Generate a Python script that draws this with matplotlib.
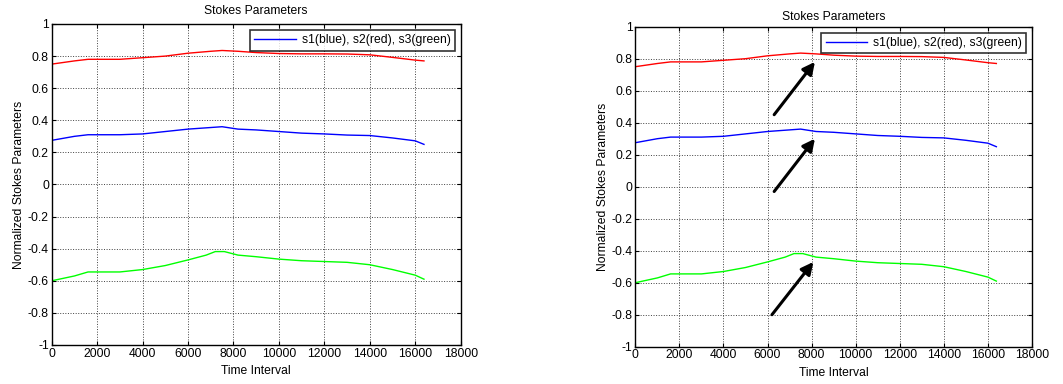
import matplotlib
matplotlib.use("Agg")
import matplotlib.pyplot as plt

plt.rcParams['font.family'] = ['Liberation Sans', 'DejaVu Sans']

# Sample positions (time interval) and normalized Stokes parameters
t = [0, 1000, 1600, 3000, 4000, 5000, 6000, 7000, 7500, 8200, 9000,
     10000, 11000, 12000, 13000, 14000, 15000, 16000, 16384]
s1 = [0.275, 0.300, 0.310, 0.310, 0.315, 0.330, 0.345, 0.355, 0.360, 0.345, 0.340,
      0.330, 0.320, 0.315, 0.308, 0.305, 0.290, 0.272, 0.250]
s2 = [0.750, 0.770, 0.780, 0.780, 0.790, 0.800, 0.818, 0.830, 0.835, 0.830, 0.822,
      0.816, 0.814, 0.814, 0.813, 0.808, 0.792, 0.775, 0.770]
t3 = [0, 1000, 1600, 3000, 4000, 5000, 6000, 6800, 7200, 7600, 8200, 9000,
      10000, 11000, 12000, 13000, 14000, 15000, 16000, 16384]
s3 = [-0.600, -0.570, -0.545, -0.545, -0.530, -0.505, -0.470, -0.440, -0.418, -0.418,
      -0.440, -0.450, -0.465, -0.475, -0.480, -0.485, -0.500, -0.530, -0.565, -0.590]

xticks = [0, 2000, 4000, 6000, 8000, 10000, 12000, 14000, 16000, 18000]
yticks = [-1, -0.8, -0.6, -0.4, -0.2, 0, 0.2, 0.4, 0.6, 0.8, 1]
ytick_labels = ['-1', '-0.8', '-0.6', '-0.4', '-0.2', '0', '0.2', '0.4', '0.6', '0.8', '1']

# Arrow annotations on the second panel: (tail_x, tail_y, head_x, head_y)
arrows = [(6300, 0.45, 8150, 0.78),
          (6300, -0.03, 8150, 0.30),
          (6200, -0.80, 8080, -0.47)]

FS = 8.7

fig = plt.figure(figsize=(10.63, 3.84), dpi=100)
ax_left = fig.add_axes([0.0486, 0.1016, 0.3848, 0.8359])
ax_right = fig.add_axes([0.5977, 0.0971, 0.3731, 0.8334])

for ax, tpad in ((ax_left, 7), (ax_right, 5)):
    ax.plot(t, s1, color='#0000ff', lw=1.0, label='s1(blue), s2(red), s3(green)')
    ax.plot(t, s2, color='#ff0000', lw=1.0)
    ax.plot(t3, s3, color='#00ff00', lw=1.0)
    ax.set_xlim(0, 18000)
    ax.set_ylim(-1, 1)
    ax.set_xticks(xticks)
    ax.set_xticklabels([str(v) for v in xticks])
    ax.set_yticks(yticks)
    ax.set_yticklabels(ytick_labels)
    ax.grid(True, color='#404040', linestyle=':', linewidth=0.7)
    ax.tick_params(direction='in', top=True, right=True, labelsize=FS, length=3, width=0.8, pad=2)
    for sp in ax.spines.values():
        sp.set_linewidth(1.0)
    ax.set_title('Stokes Parameters', fontsize=FS, pad=tpad)
    ax.set_xlabel('Time Interval', fontsize=FS, labelpad=4)
    ax.set_ylabel('Normalized Stokes Parameters', fontsize=FS, labelpad=2)
    leg = ax.legend(loc='upper right', fontsize=FS, frameon=True, fancybox=False,
                    edgecolor='black', borderaxespad=0.5, handlelength=3.4,
                    borderpad=0.35, handletextpad=0.5)
    leg.get_frame().set_linewidth(1.2)

for x0, y0, x1, y1 in arrows:
    ax_right.annotate('', xy=(x1, y1), xytext=(x0, y0),
                      arrowprops=dict(arrowstyle='-|>', color='black', lw=2.2,
                                      mutation_scale=18, shrinkA=0, shrinkB=0))

fig.savefig('out.png', dpi=100)
